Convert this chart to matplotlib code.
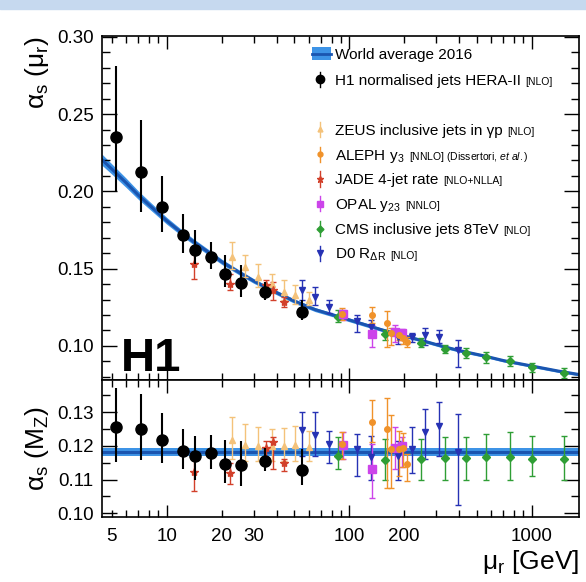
import numpy as np
import matplotlib
matplotlib.use('Agg')
import matplotlib.pyplot as plt
from matplotlib.patches import Rectangle
from matplotlib.ticker import FixedLocator, FuncFormatter, MultipleLocator, NullFormatter, LogLocator

plt.rcParams['font.family'] = ['Liberation Sans', 'DejaVu Sans']
plt.rcParams['mathtext.fontset'] = 'custom'
plt.rcParams['mathtext.rm'] = 'Liberation Sans'
plt.rcParams['mathtext.it'] = 'Liberation Sans:italic'
plt.rcParams['mathtext.bf'] = 'Liberation Sans:bold'

# world average band
wa_mu = [4.42, 5, 6, 7, 8.5, 10, 12, 14, 17, 20, 25, 30, 40, 50, 65, 91.2,
         120, 150, 200, 250, 330, 400, 550, 700, 1000, 1400, 1815]
wa_as = [0.2205, 0.2145, 0.2055, 0.1975, 0.1885, 0.1810, 0.1735, 0.1675, 0.1605,
         0.1545, 0.1475, 0.1420, 0.1345, 0.1290, 0.1235, 0.1183, 0.1140, 0.1105,
         0.1065, 0.1035, 0.0995, 0.0970, 0.0935, 0.0905, 0.0870, 0.0837, 0.0815]
wa_err = [0.0036, 0.0033, 0.0030, 0.0027, 0.0024, 0.0022, 0.0020, 0.0019, 0.0018,
          0.0017, 0.0016, 0.0015, 0.0014, 0.0014, 0.0013, 0.0012, 0.0012, 0.0011,
          0.0011, 0.0010, 0.0010, 0.0010, 0.0009, 0.0009, 0.0009, 0.0009, 0.0009]
wa_mz = 0.1181
wa_mz_err = 0.0012

# H1 normalised jets
h1_mu = [5.29, 7.25, 9.41, 12.27, 14.32, 17.5, 20.9, 25.6, 34.6, 54.9]
h1_up = [0.2355, 0.2127, 0.1897, 0.1715, 0.1622, 0.1575, 0.1468, 0.1407, 0.1349, 0.1220]
h1_up_top = [0.281, 0.2463, 0.2102, 0.1855, 0.1747, 0.1671, 0.1586, 0.1521, 0.1413, 0.1295]
h1_up_bot = [0.1994, 0.1865, 0.1736, 0.1603, 0.1532, 0.150, 0.1381, 0.1317, 0.130, 0.1166]
h1_lo = [0.1257, 0.1250, 0.1217, 0.1185, 0.1170, 0.1180, 0.1145, 0.1142, 0.1155, 0.1128]
h1_lo_top = [0.137, 0.1355, 0.1297, 0.125, 0.123, 0.1232, 0.1218, 0.1215, 0.1195, 0.119]
h1_lo_bot = [0.1152, 0.1158, 0.115, 0.1132, 0.110, 0.113, 0.109, 0.108, 0.1125, 0.1085]

# ZEUS inclusive jets in photoproduction
zeus_mu = [22.9, 26.9, 31.6, 37.6, 43.9, 50.5, 60.4]
zeus_up = [0.1575, 0.151, 0.1446, 0.1403, 0.1349, 0.1328, 0.130]
zeus_up_top = [0.1671, 0.1586, 0.1532, 0.1468, 0.1424, 0.1392, 0.1349]
zeus_up_bot = [0.150, 0.1446, 0.1381, 0.1343, 0.1295, 0.1274, 0.1263]
zeus_lo = [0.1217, 0.1203, 0.120, 0.120, 0.120, 0.1203, 0.1197]
zeus_lo_top = [0.1285, 0.1265, 0.1255, 0.125, 0.1252, 0.126, 0.1245]
zeus_lo_bot = [0.116, 0.1155, 0.1155, 0.1155, 0.1155, 0.1155, 0.1155]

# ALEPH y3
aleph_mu = [91.2, 132.5, 161.2, 168.5, 188.5, 197.2, 206.2]
aleph_up = [0.1205, 0.1203, 0.1149, 0.1085, 0.107, 0.1048, 0.1026]
aleph_up_top = [0.1245, 0.1252, 0.1227, 0.1113, 0.1105, 0.108, 0.1055]
aleph_up_bot = [0.117, 0.1149, 0.0994, 0.1005, 0.1035, 0.1015, 0.0995]
aleph_lo = [0.1205, 0.1272, 0.125, 0.119, 0.119, 0.1193, 0.1145]
aleph_lo_top = [0.1242, 0.1335, 0.1342, 0.1292, 0.1245, 0.1237, 0.1175]
aleph_lo_bot = [0.116, 0.121, 0.1075, 0.1076, 0.111, 0.1137, 0.1095]

# JADE 4-jet rate
jade_mu = [14.19, 22.25, 34.9, 38.4, 43.9]
jade_up = [0.1532, 0.1403, 0.1392, 0.136, 0.1284]
jade_up_top = [0.1597, 0.1468, 0.1429, 0.1413, 0.1317]
jade_up_bot = [0.1435, 0.136, 0.1355, 0.1295, 0.1252]
jade_lo = [0.1122, 0.112, 0.1195, 0.121, 0.115]
jade_lo_top = [0.116, 0.115, 0.1215, 0.1225, 0.1162]
jade_lo_bot = [0.1065, 0.1087, 0.116, 0.113, 0.1125]

# OPAL y23
opal_mu = [92.0, 132.5, 178, 193.6]
opal_up = [0.1205, 0.1076, 0.1091, 0.1081]
opal_up_top = [0.1235, 0.1134, 0.1134, 0.111]
opal_up_bot = [0.1166, 0.0994, 0.1026, 0.1037]
opal_lo = [0.1202, 0.113, 0.1193, 0.120]
opal_lo_top = [0.124, 0.1205, 0.1255, 0.1227]
opal_lo_bot = [0.116, 0.1045, 0.113, 0.1137]

# CMS inclusive jets 8 TeV
cms_mu = [87.0, 156.8, 247.6, 333.5, 435.5, 560, 757, 1002, 1506]
cms_up = [0.1188, 0.1076, 0.1016, 0.0979, 0.0952, 0.0926, 0.0902, 0.0865, 0.0823]
cms_up_top = [0.1231, 0.1102, 0.1048, 0.1005, 0.0984, 0.0962, 0.0934, 0.0891, 0.0855]
cms_up_bot = [0.1155, 0.1037, 0.099, 0.0952, 0.0919, 0.0891, 0.087, 0.0833, 0.079]
cms_lo = [0.117, 0.1157, 0.116, 0.1163, 0.1165, 0.1168, 0.1168, 0.116, 0.1162]
cms_lo_top = [0.1225, 0.122, 0.122, 0.1225, 0.1225, 0.1235, 0.124, 0.1228, 0.123]
cms_lo_bot = [0.113, 0.110, 0.110, 0.110, 0.110, 0.110, 0.110, 0.111, 0.110]

# D0 R_dR
d0_mu = [54.9, 64.9, 77.8, 110.6, 131.4, 186, 220, 261.7, 310, 394]
d0_up = [0.136, 0.1317, 0.1252, 0.1162, 0.1123, 0.1056, 0.1059, 0.107, 0.1059, 0.0973]
d0_up_top = [0.1424, 0.1381, 0.1295, 0.1199, 0.1166, 0.1090, 0.1084, 0.1113, 0.1102, 0.1037]
d0_up_bot = [0.1295, 0.1263, 0.121, 0.1091, 0.1059, 0.1010, 0.1026, 0.1005, 0.1016, 0.0865]
d0_lo = [0.1248, 0.1232, 0.1205, 0.119, 0.1168, 0.117, 0.1192, 0.124, 0.1258, 0.1182]
d0_lo_top = [0.130, 0.130, 0.1245, 0.1235, 0.123, 0.1215, 0.1255, 0.131, 0.133, 0.1295]
d0_lo_bot = [0.117, 0.117, 0.115, 0.111, 0.110, 0.110, 0.112, 0.116, 0.117, 0.1025]

BAND = '#3d93e6'
CORE = '#1a55b0'
COLORS = {
    'zeus': '#f4c27a',
    'aleph': '#f0922a',
    'jade': '#d2402a',
    'opal': '#cc44ea',
    'cms': '#2f9e35',
    'd0': '#2632b4',
}


def draw_series(ax, mu, val, top, bot, color, marker, ms, lw=1.0, cap=2.0, z=4):
    val = np.array(val)
    yerr = [val - np.array(bot), np.array(top) - val]
    ax.errorbar(mu, val, yerr=yerr, fmt=marker, color=color, ms=ms, mec=color,
                elinewidth=lw, capsize=cap, capthick=lw, zorder=z)


def style_axis(ax):
    ax.set_xscale('log')
    ax.set_xlim(4.42, 1815)
    ax.tick_params(which='both', direction='in', top=True, right=True, width=1.0,
                   labelsize=13.5)
    ax.tick_params(axis='y', which='major', length=11, pad=6)
    ax.tick_params(axis='y', which='minor', length=5.5)
    ax.tick_params(axis='x', which='major', length=9, pad=8)
    ax.tick_params(axis='x', which='minor', length=5, pad=8)
    ax.xaxis.set_major_locator(FixedLocator([10, 100, 1000]))
    ax.xaxis.set_minor_locator(LogLocator(base=10, subs=np.arange(2, 10), numticks=20))
    for sp in ax.spines.values():
        sp.set_linewidth(1.2)


fig = plt.figure(figsize=(5.86, 5.82), dpi=100)
fig.patches.append(Rectangle((0, 1 - 9 / 582), 1, 9 / 582, transform=fig.transFigure,
                             color='#c6d9ef', zorder=0))

ax = fig.add_axes([0.174, 0.347, 0.814, 0.591])
ax2 = fig.add_axes([0.174, 0.1117, 0.814, 0.2353])

# upper panel
ax.fill_between(wa_mu, np.array(wa_as) - np.array(wa_err), np.array(wa_as) + np.array(wa_err),
                color=BAND, lw=0, zorder=1)
ax.plot(wa_mu, wa_as, color=CORE, lw=2.2, zorder=2)

draw_series(ax, zeus_mu, zeus_up, zeus_up_top, zeus_up_bot, COLORS['zeus'], '^', 4)
draw_series(ax, jade_mu, jade_up, jade_up_top, jade_up_bot, COLORS['jade'], '*', 6)
draw_series(ax, cms_mu, cms_up, cms_up_top, cms_up_bot, COLORS['cms'], 'D', 4)
draw_series(ax, d0_mu, d0_up, d0_up_top, d0_up_bot, COLORS['d0'], 'v', 5)
draw_series(ax, opal_mu, opal_up, opal_up_top, opal_up_bot, COLORS['opal'], 's', 6)
draw_series(ax, aleph_mu, aleph_up, aleph_up_top, aleph_up_bot, COLORS['aleph'], 'o', 4)
draw_series(ax, h1_mu, h1_up, h1_up_top, h1_up_bot, 'black', 'o', 8, lw=1.5, cap=0, z=5)

style_axis(ax)
ax.set_ylim(0.0779, 0.3005)
ax.yaxis.set_major_locator(MultipleLocator(0.05))
ax.yaxis.set_minor_locator(MultipleLocator(0.01))
ax.yaxis.set_major_formatter(FuncFormatter(lambda v, p: '%.2f' % v))
ax.xaxis.set_major_formatter(NullFormatter())
ax.xaxis.set_minor_formatter(NullFormatter())
ax.set_ylabel('α$_\\mathrm{s}$ (μ$_\\mathrm{r}$)', fontsize=19, loc='top', labelpad=4)

ax.text(0.040, 0.027, 'H1', transform=ax.transAxes, fontsize=34, fontweight='bold',
        va='baseline', ha='left')

# legend, drawn by hand
leg_x = 0.457
txt_x = 0.489
ax.add_patch(Rectangle((0.4396, 0.930), 0.040, 0.038, transform=ax.transAxes,
                       color=BAND, lw=0, clip_on=False))
ax.plot([0.4396, 0.4796], [0.949, 0.949], transform=ax.transAxes, color=CORE, lw=2)
ax.text(txt_x, 0.933, 'World average 2016', transform=ax.transAxes, fontsize=11,
        va='baseline')

legend_rows = [
    ('H1 normalised jets HERA-II', '[NLO]', 'black', 'o', 6),
    (None, None, None, None, None),
    ('ZEUS inclusive jets in γp', '[NLO]', COLORS['zeus'], '^', 3.5),
    ('ALEPH y$_3$', '[NNLO] (Dissertori, $\\it{et\\ al.}$)', COLORS['aleph'], 'o', 3.5),
    ('JADE 4-jet rate', '[NLO+NLLA]', COLORS['jade'], '*', 5),
    ('OPAL y$_{23}$', '[NNLO]', COLORS['opal'], 's', 5),
    ('CMS inclusive jets 8TeV', '[NLO]', COLORS['cms'], 'D', 3.5),
    ('D0 R$_{\\mathrm{\\Delta R}}$', '[NLO]', COLORS['d0'], 'v', 4.5),
]
row_px = [79.3, 104, 129.3, 154.1, 178.9, 203.7, 228.5, 253.3]
for (main, small, col, mk, ms), ypx in zip(legend_rows, row_px):
    if main is None:
        continue
    yc = (380 - ypx) / 344
    ax.plot([leg_x, leg_x], [yc - 0.022, yc + 0.022], transform=ax.transAxes,
            color=col, lw=1.0)
    ax.plot([leg_x], [yc], transform=ax.transAxes, marker=mk, ms=ms, color=col)
    yb = yc - 0.016
    t = ax.text(txt_x, yb, main, transform=ax.transAxes, fontsize=11, va='baseline')
    ax.annotate(small, xy=(1, yb), xycoords=(t, 'axes fraction'), xytext=(3, 0),
                textcoords='offset points', fontsize=7.5, va='baseline')

# lower panel
ax2.fill_between([4.42, 1815], [wa_mz - wa_mz_err] * 2, [wa_mz + wa_mz_err] * 2,
                 color=BAND, lw=0, zorder=1)
ax2.plot([4.42, 1815], [wa_mz, wa_mz], color=CORE, lw=2.2, zorder=2)

draw_series(ax2, zeus_mu, zeus_lo, zeus_lo_top, zeus_lo_bot, COLORS['zeus'], '^', 4)
draw_series(ax2, jade_mu, jade_lo, jade_lo_top, jade_lo_bot, COLORS['jade'], '*', 6)
draw_series(ax2, cms_mu, cms_lo, cms_lo_top, cms_lo_bot, COLORS['cms'], 'D', 4)
draw_series(ax2, d0_mu, d0_lo, d0_lo_top, d0_lo_bot, COLORS['d0'], 'v', 5)
draw_series(ax2, opal_mu, opal_lo, opal_lo_top, opal_lo_bot, COLORS['opal'], 's', 6)
draw_series(ax2, aleph_mu, aleph_lo, aleph_lo_top, aleph_lo_bot, COLORS['aleph'], 'o', 4)
draw_series(ax2, h1_mu, h1_lo, h1_lo_top, h1_lo_bot, 'black', 'o', 8, lw=1.5, cap=0, z=5)

style_axis(ax2)
ax2.set_ylim(0.0989, 0.1395)
ax2.yaxis.set_major_locator(MultipleLocator(0.01))
ax2.yaxis.set_minor_locator(MultipleLocator(0.005))
ax2.yaxis.set_major_formatter(FuncFormatter(lambda v, p: '%.2f' % v))
ax2.xaxis.set_major_formatter(FuncFormatter(lambda v, p: '%d' % round(v)))
ax2.xaxis.set_minor_formatter(FuncFormatter(
    lambda v, p: '%d' % round(v) if round(v) in (5, 20, 30, 200) else ''))
ax2.set_ylabel('α$_\\mathrm{s}$ (M$_\\mathrm{Z}$)', fontsize=19, labelpad=4)
ax2.set_xlabel('μ$_\\mathrm{r}$ [GeV]', fontsize=19, loc='right', labelpad=2)

fig.savefig('out.png', dpi=100)
